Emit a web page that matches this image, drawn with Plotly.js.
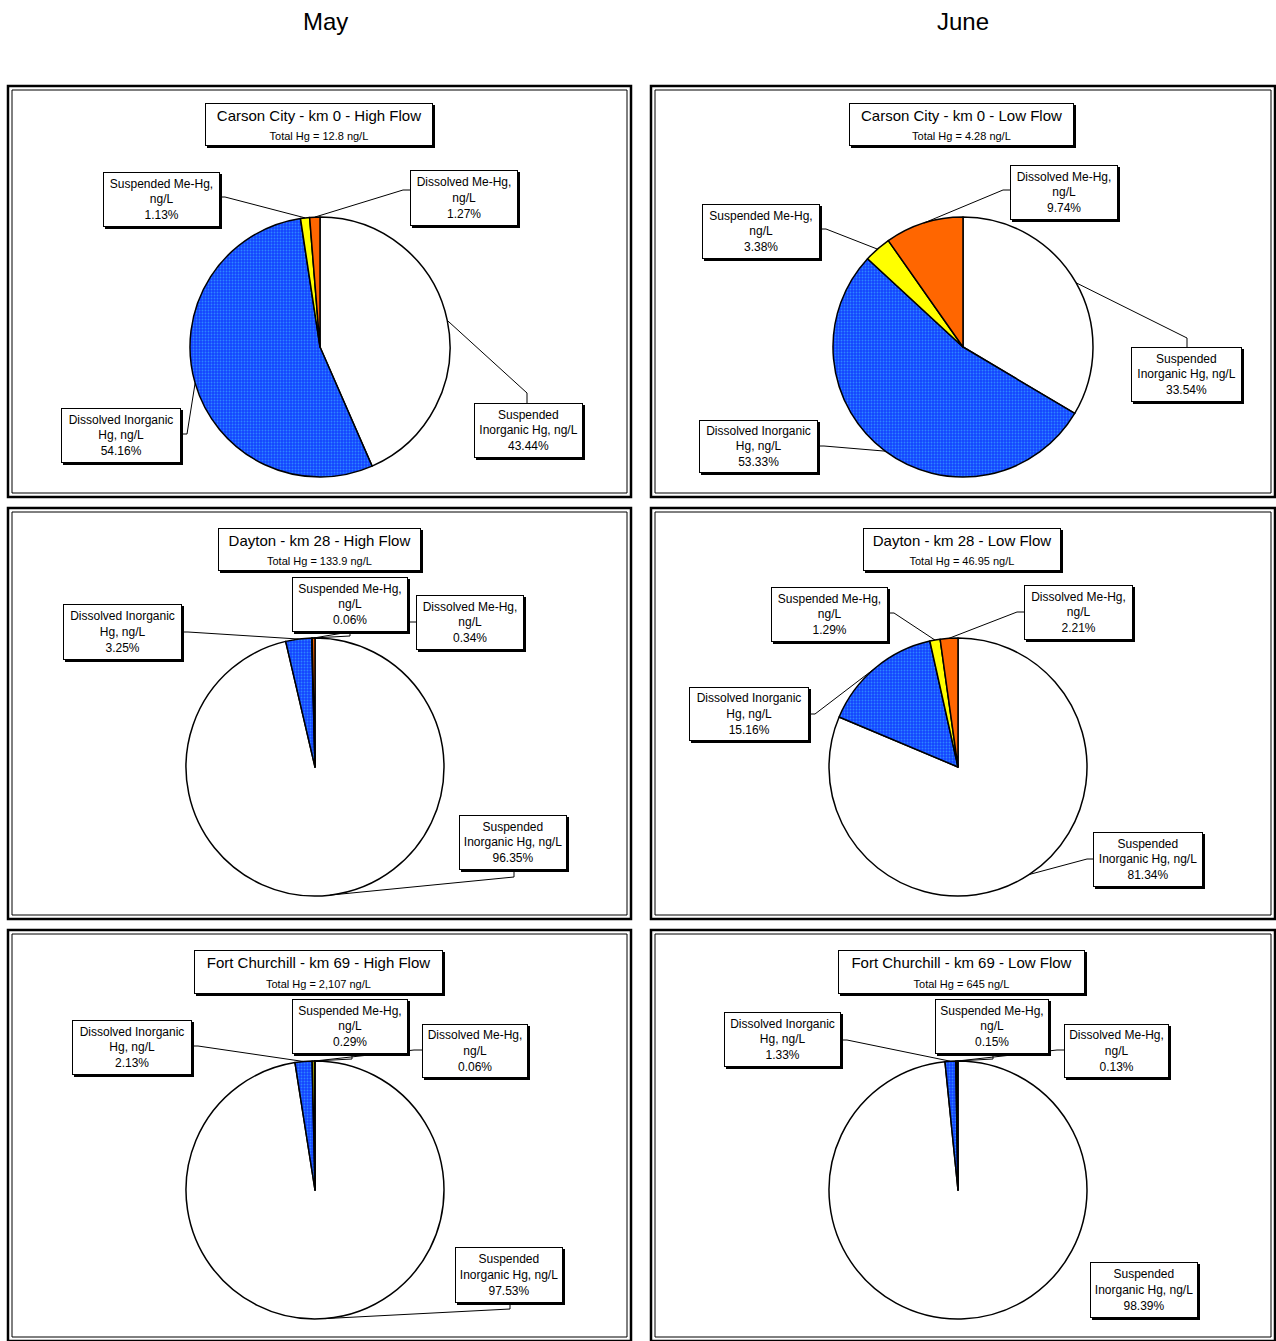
<!DOCTYPE html>
<html>
<head>
<meta charset="utf-8">
<script src="https://cdn.plot.ly/plotly-3.0.1.min.js"></script>
<style>html,body{margin:0;padding:0;background:#fff;}</style>
</head>
<body>
<div id="chart" style="width:1276px;height:1341px;"></div>
<script>
// ---------- DATA ----------
const monthLabels = ["May", "June"];
const sliceNames = ["Suspended Inorganic Hg, ng/L", "Dissolved Inorganic Hg, ng/L", "Suspended Me-Hg, ng/L", "Dissolved Me-Hg, ng/L"];
const sliceLabelText = ["Suspended<br>Inorganic Hg, ng/L", "Dissolved Inorganic<br>Hg, ng/L", "Suspended Me-Hg,<br>ng/L", "Dissolved Me-Hg,<br>ng/L"];
const panelTitles = [
  "Carson City - km 0 - High Flow", "Carson City - km 0 - Low Flow",
  "Dayton - km 28 - High Flow", "Dayton - km 28 - Low Flow",
  "Fort Churchill - km 69 - High Flow", "Fort Churchill - km 69 - Low Flow"
];
const totalHg = ["12.8", "4.28", "133.9", "46.95", "2,107", "645"];
const carsonMay  = [43.44, 54.16, 1.13, 1.27];
const carsonJune = [33.54, 53.33, 3.38, 9.74];
const daytonMay  = [96.35, 3.25, 0.06, 0.34];
const daytonJune = [81.34, 15.16, 1.29, 2.21];
const fortMay    = [97.53, 2.13, 0.29, 0.06];
const fortJune   = [98.39, 1.33, 0.15, 0.13];
const panelValues = [carsonMay, carsonJune, daytonMay, daytonJune, fortMay, fortJune];

// ---------- LAYOUT CONFIG (pixel positions) ----------
const W = 1276, H = 1341;
const px = x => x / W;
const py = y => 1 - y / H;

const panels = [
  {frame:[8,86,631,497], pie:[320,347,130], title:[205,103,433,146],
   labels:[{box:[474,403,583,458], att:[527,403], elb:[527,393]},
           {box:[61,408,181,463], att:[181,434], elb:[187,434]},
           {box:[103,172,220,227], att:[220,197], elb:[225,197]},
           {box:[410,170,518,226], att:[410,190], elb:[403,190]}]},
  {frame:[651,86,1275,497], pie:[963,347,130], title:[849,103,1074,146],
   labels:[{box:[1131,347,1242,402], att:[1187,347], elb:[1187,338]},
           {box:[699,420,818,473], att:[818,446], elb:[824,446]},
           {box:[702,204,820,259], att:[820,229], elb:[826,229]},
           {box:[1010,165,1118,220], att:[1010,190], elb:[1003,190]}]},
  {frame:[8,508,631,919], pie:[315,767,129], title:[218,528,421,571],
   labels:[{box:[459,815,567,870], att:[514,870], elb:[514,877]},
           {box:[63,604,182,660], att:[182,632], elb:[188,632]},
           {box:[292,577,408,632], att:[350,632], elb:[350,636]},
           {box:[416,595,524,650], att:[416,622], elb:[408,622]}]},
  {frame:[651,508,1275,919], pie:[958,767,129], title:[863,528,1061,571],
   labels:[{box:[1093,832,1203,887], att:[1093,859], elb:[1087,859]},
           {box:[689,687,809,741], att:[809,714], elb:[815,714]},
           {box:[771,587,888,642], att:[888,613], elb:[894,613]},
           {box:[1024,585,1133,640], att:[1024,612], elb:[1017,612]}]},
  {frame:[8,930,631,1341], pie:[315,1190,129], title:[194,950,443,994],
   labels:[{box:[455,1247,563,1303], att:[510,1303], elb:[510,1309]},
           {box:[72,1020,192,1075], att:[192,1046], elb:[198,1046]},
           {box:[292,999,408,1054], att:[352,1054], elb:[352,1059]},
           {box:[422,1024,528,1078], att:[422,1050], elb:[414,1050]}]},
  {frame:[651,930,1275,1341], pie:[958,1190,129], title:[838,950,1085,994],
   labels:[{box:[1090,1262,1198,1318], att:null, elb:null},
           {box:[724,1012,841,1067], att:[841,1040], elb:[847,1040]},
           {box:[935,999,1049,1054], att:[993,1054], elb:[993,1059]},
           {box:[1064,1024,1169,1078], att:[1064,1050], elb:[1057,1050]}]}
];

const FONT = "Arial, 'Liberation Sans', sans-serif";
const sliceColors = ["#FFFFFF", "#1444FF", "#FFFF00", "#FF6600"];

const traces = [];
const shapes = [];
const annotations = [];

function boxAnnotations(text, box, fontSize) {
  const [x0, y0, x1, y1] = box;
  const cx = (x0 + x1) / 2, cy = (y0 + y1) / 2;
  const w = x1 - x0 - 2, h = y1 - y0 - 2;
  // shadow
  annotations.push({x: px(cx), y: py(cy), xref: 'paper', yref: 'paper', xanchor: 'center', yanchor: 'middle',
    xshift: 2, yshift: -2, text: text, showarrow: false, width: w, height: h,
    bgcolor: '#000', bordercolor: '#000', borderwidth: 1, borderpad: 0,
    font: {family: FONT, size: fontSize, color: '#000'}});
  annotations.push({x: px(cx), y: py(cy), xref: 'paper', yref: 'paper', xanchor: 'center', yanchor: 'middle',
    text: text, showarrow: false, width: w, height: h, align: 'center', valign: 'middle',
    bgcolor: '#fff', bordercolor: '#000', borderwidth: 1, borderpad: 0,
    font: {family: FONT, size: fontSize, color: '#000'}});
}

panels.forEach((p, k) => {
  const vals = panelValues[k];
  const [cx, cy, r] = p.pie;
  // frames
  const [fx0, fy0, fx1, fy1] = p.frame;
  shapes.push({type: 'rect', xref: 'paper', yref: 'paper', x0: px(fx0), x1: px(fx1), y0: py(fy1), y1: py(fy0),
    line: {color: '#000', width: 2.5}, layer: 'below'});
  shapes.push({type: 'rect', xref: 'paper', yref: 'paper', x0: px(fx0 + 4), x1: px(fx1 - 4), y0: py(fy1 - 4), y1: py(fy0 + 4),
    line: {color: '#000', width: 1}, layer: 'below'});

  traces.push({
    type: 'pie',
    values: vals,
    labels: sliceNames,
    sort: false,
    direction: 'clockwise',
    rotation: 0,
    textinfo: 'none',
    hoverinfo: 'label+percent',
    showlegend: false,
    domain: {x: [px(cx - r), px(cx + r)], y: [py(cy + r), py(cy - r)]},
    marker: {
      colors: sliceColors,
      line: {color: '#000', width: 1.5},
      pattern: {shape: ['', '.', '', ''], fgcolor: '#45C8FF', size: 3, solidity: 0.3, fillmode: 'overlay'}
    }
  });

  // title box
  boxAnnotations(panelTitles[k] + "<br><span style='font-size:11px'>Total Hg = " + totalHg[k] + " ng/L</span>", p.title, 15);

  // labels and leader lines
  const total = vals.reduce((a, b) => a + b, 0);
  let cum = 0;
  vals.forEach((v, i) => {
    const frac = (cum + v / 2) / total;
    cum += v;
    const lab = p.labels[i];
    if (lab.att) {
      const th = 2 * Math.PI * frac;
      const ex = cx + r * Math.sin(th), ey = cy - r * Math.cos(th);
      shapes.push({type: 'path', xref: 'paper', yref: 'paper',
        path: `M ${px(ex)},${py(ey)} L ${px(lab.elb[0])},${py(lab.elb[1])} L ${px(lab.att[0])},${py(lab.att[1])}`,
        line: {color: '#000', width: 1}});
    }
    boxAnnotations(sliceLabelText[i] + "<br>" + v.toFixed(2) + "%", lab.box, 12);
  });
});

// month headers
[[325, 22], [963, 22]].forEach((pos, i) => {
  annotations.push({x: px(pos[0]), y: py(pos[1]), xref: 'paper', yref: 'paper', xanchor: 'center', yanchor: 'middle',
    text: monthLabels[i], showarrow: false, font: {family: FONT, size: 24, color: '#000'}});
});

const layout = {
  width: W, height: H,
  margin: {l: 0, r: 0, t: 0, b: 0},
  paper_bgcolor: '#fff',
  plot_bgcolor: '#fff',
  showlegend: false,
  shapes: shapes,
  annotations: annotations
};

Plotly.newPlot('chart', traces, layout, {displayModeBar: false, staticPlot: true});
</script>
</body>
</html>
